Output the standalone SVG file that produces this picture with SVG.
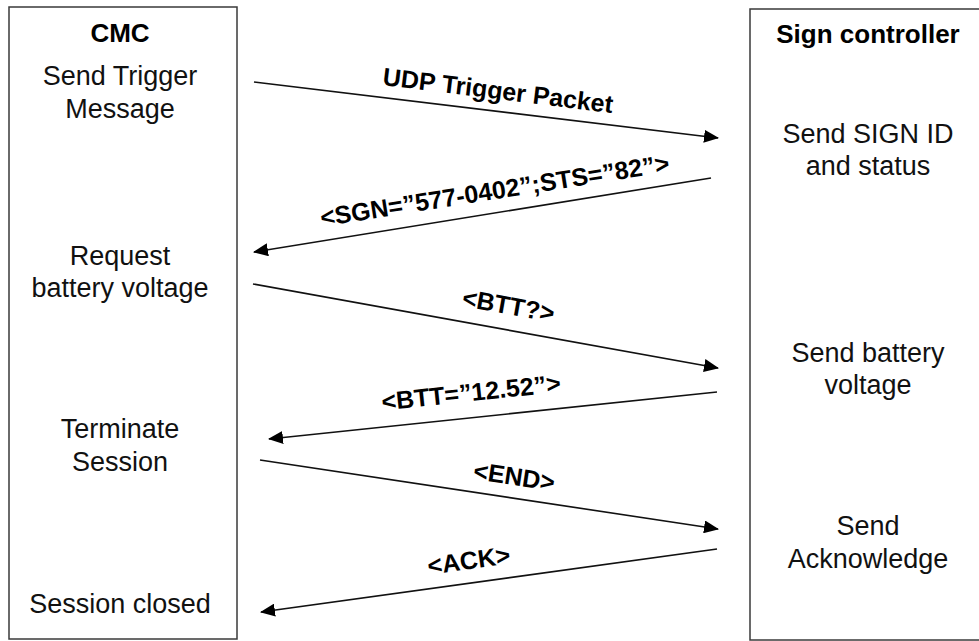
<svg xmlns="http://www.w3.org/2000/svg" width="979" height="641" viewBox="0 0 979 641">
<style>
.box{fill:#fff;stroke:#3a3a3a;stroke-width:1.5}
.t{font-family:"Liberation Sans",Arial,sans-serif;font-size:27px;fill:#111;text-anchor:middle}
.h{font-family:"Liberation Sans",Arial,sans-serif;font-size:26px;font-weight:bold;fill:#000;text-anchor:middle}
.lbl{font-family:"Liberation Sans",Arial,sans-serif;font-size:25px;font-weight:bold;fill:#000;text-anchor:middle}
.msg{fill:none;stroke:#111;stroke-width:1.6;marker-end:url(#ah)}
</style>
<defs>
<marker id="ah" markerUnits="userSpaceOnUse" markerWidth="15" markerHeight="13" refX="14" refY="6.5" orient="auto">
<path d="M0,0 L15,6.5 L0,13 Z" fill="#000"/>
</marker>
</defs>
<rect width="979" height="641" fill="#fff"/>
<g id="cmc">
<rect class="box" x="9" y="7" width="228" height="632"/>
<text class="h" x="120" y="42">CMC</text>
<text class="t" x="120" y="85">Send Trigger</text>
<text class="t" x="120" y="118">Message</text>
<text class="t" x="120" y="265">Request</text>
<text class="t" x="120" y="297">battery voltage</text>
<text class="t" x="120" y="438">Terminate</text>
<text class="t" x="120" y="471">Session</text>
<text class="t" x="120" y="613">Session closed</text>
</g>
<g id="sign-controller">
<rect class="box" x="750" y="9" width="260" height="631"/>
<text class="h" x="868" y="43">Sign controller</text>
<text class="t" x="868" y="143">Send SIGN ID</text>
<text class="t" x="868" y="175">and status</text>
<text class="t" x="868" y="362">Send battery</text>
<text class="t" x="868" y="394">voltage</text>
<text class="t" x="868" y="535">Send</text>
<text class="t" x="868" y="568">Acknowledge</text>
</g>
<g id="connectors">
<line class="msg" x1="254" y1="82" x2="718" y2="138"/>
<line class="msg" x1="711" y1="178" x2="254" y2="252"/>
<line class="msg" x1="253" y1="284" x2="718" y2="368"/>
<line class="msg" x1="717" y1="392" x2="269" y2="439"/>
<line class="msg" x1="260" y1="460" x2="718" y2="529"/>
<line class="msg" x1="717" y1="549" x2="261" y2="612"/>
<text class="lbl" transform="translate(497,99) rotate(7)">UDP Trigger Packet</text>
<text class="lbl" transform="translate(496,199) rotate(-9)">&lt;SGN=”577-0402”;STS=”82”&gt;</text>
<text class="lbl" transform="translate(507,314) rotate(10)">&lt;BTT?&gt;</text>
<text class="lbl" transform="translate(472,401) rotate(-6)">&lt;BTT=”12.52”&gt;</text>
<text class="lbl" transform="translate(513,485) rotate(8.5)">&lt;END&gt;</text>
<text class="lbl" transform="translate(470,569) rotate(-8)">&lt;ACK&gt;</text>
</g>
</svg>
